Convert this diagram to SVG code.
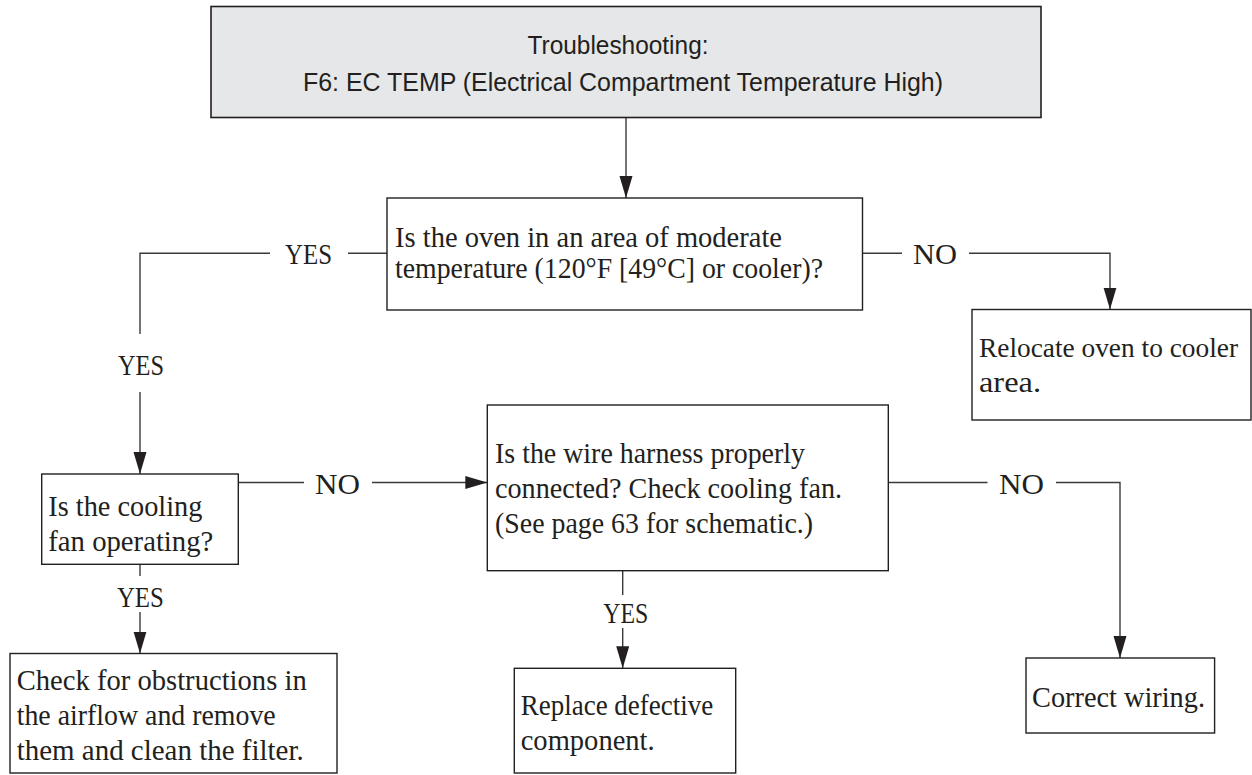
<svg xmlns="http://www.w3.org/2000/svg" width="1252" height="775" viewBox="0 0 1252 775">
<style>
.box{fill:#ffffff;stroke:#231f20;stroke-width:1.4}
.head{fill:#e6e7e8;stroke:#231f20;stroke-width:1.6}
.t{font-family:"Liberation Serif","Times New Roman",serif;font-size:30px;fill:#231f20}
.s{font-family:"Liberation Sans",Arial,sans-serif;font-size:25px;fill:#231f20}
.lbl{font-family:"Liberation Serif","Times New Roman",serif;font-size:30px;fill:#231f20;text-anchor:middle}
.c{fill:none;stroke:#3a3a3a;stroke-width:1.4}
</style>
<defs>
<marker id="arr" markerUnits="userSpaceOnUse" markerWidth="24" markerHeight="14" refX="22" refY="6.5" orient="auto">
<path d="M0,0 L22,6.5 L0,13 Z" fill="#231f20"/>
</marker>
</defs>

<g id="connectors">
<line class="c" x1="626" y1="117.5" x2="626" y2="198" marker-end="url(#arr)"/>
<polyline class="c" points="387,253.3 348,253.3"/>
<polyline class="c" points="270,253.3 140,253.3 140,334"/>
<line class="c" x1="140" y1="392" x2="140" y2="474" marker-end="url(#arr)"/>
<line class="c" x1="862.5" y1="253.3" x2="902" y2="253.3"/>
<polyline class="c" points="969,253.3 1110,253.3 1110,309.5" marker-end="url(#arr)"/>
<line class="c" x1="238.3" y1="482.5" x2="304" y2="482.5"/>
<line class="c" x1="372" y1="482.5" x2="487.3" y2="482.5" marker-end="url(#arr)"/>
<line class="c" x1="140" y1="564.3" x2="140" y2="576"/>
<line class="c" x1="140" y1="612" x2="140" y2="653.5" marker-end="url(#arr)"/>
<line class="c" x1="888.3" y1="482.5" x2="987.5" y2="482.5"/>
<polyline class="c" points="1056,482.5 1120,482.5 1120,658" marker-end="url(#arr)"/>
<line class="c" x1="622.7" y1="570.7" x2="622.7" y2="595"/>
<line class="c" x1="622.7" y1="628" x2="622.7" y2="668.3" marker-end="url(#arr)"/>
<text class="lbl" x="308.5" y="264" textLength="47" lengthAdjust="spacingAndGlyphs">YES</text>
<text class="lbl" x="141" y="375" textLength="46" lengthAdjust="spacingAndGlyphs">YES</text>
<text class="lbl" x="935" y="264" textLength="44" lengthAdjust="spacingAndGlyphs">NO</text>
<text class="lbl" x="337.5" y="494" textLength="45" lengthAdjust="spacingAndGlyphs">NO</text>
<text class="lbl" x="140.4" y="607" textLength="47" lengthAdjust="spacingAndGlyphs">YES</text>
<text class="lbl" x="1021.5" y="494" textLength="45" lengthAdjust="spacingAndGlyphs">NO</text>
<text class="lbl" x="625.8" y="623" textLength="45" lengthAdjust="spacingAndGlyphs">YES</text>
</g>

<g id="title">
<rect class="head" x="211" y="6.5" width="830" height="111"/>
<text class="s" x="618" y="54" text-anchor="middle" textLength="181" lengthAdjust="spacingAndGlyphs">Troubleshooting:</text>
<text class="s" x="303" y="90.7" textLength="640" lengthAdjust="spacingAndGlyphs">F6: EC TEMP (Electrical Compartment Temperature High)</text>
</g>

<g id="q-temperature">
<rect class="box" x="387" y="198" width="475.5" height="112"/>
<text class="t" x="395" y="247" textLength="387" lengthAdjust="spacingAndGlyphs">Is the oven in an area of moderate</text>
<text class="t" x="395" y="278" textLength="428" lengthAdjust="spacingAndGlyphs">temperature (120°F [49°C] or cooler)?</text>
</g>

<g id="relocate">
<rect class="box" x="972" y="309.5" width="279" height="110.5"/>
<text class="t" x="979" y="357" style="font-size:27.5px" textLength="259" lengthAdjust="spacingAndGlyphs">Relocate oven to cooler</text>
<text class="t" x="979" y="392" style="font-size:29px" textLength="62" lengthAdjust="spacingAndGlyphs">area.</text>
</g>

<g id="q-fan">
<rect class="box" x="41.7" y="474" width="196.6" height="90.3"/>
<text class="t" x="48.3" y="516" textLength="154" lengthAdjust="spacingAndGlyphs">Is the cooling</text>
<text class="t" x="48.3" y="551" textLength="165" lengthAdjust="spacingAndGlyphs">fan operating?</text>
</g>

<g id="q-harness">
<rect class="box" x="487.3" y="405" width="401" height="165.7"/>
<text class="t" x="495" y="463.3" textLength="310" lengthAdjust="spacingAndGlyphs">Is the wire harness properly</text>
<text class="t" x="495" y="498.3" textLength="347" lengthAdjust="spacingAndGlyphs">connected? Check cooling fan.</text>
<text class="t" x="495" y="533.3" textLength="318" lengthAdjust="spacingAndGlyphs">(See page 63 for schematic.)</text>
</g>

<g id="obstructions">
<rect class="box" x="10" y="653.5" width="327" height="119.5"/>
<text class="t" x="16.7" y="690" textLength="290" lengthAdjust="spacingAndGlyphs">Check for obstructions in</text>
<text class="t" x="16.7" y="725" textLength="259" lengthAdjust="spacingAndGlyphs">the airflow and remove</text>
<text class="t" x="16.7" y="760" textLength="287" lengthAdjust="spacingAndGlyphs">them and clean the filter.</text>
</g>

<g id="replace">
<rect class="box" x="514.3" y="668.3" width="221.4" height="104.7"/>
<text class="t" x="520.7" y="715" textLength="192.6" lengthAdjust="spacingAndGlyphs">Replace defective</text>
<text class="t" x="520.7" y="750" textLength="134" lengthAdjust="spacingAndGlyphs">component.</text>
</g>

<g id="correct-wiring">
<rect class="box" x="1026" y="658" width="188.6" height="75"/>
<text class="t" x="1032" y="707" textLength="173" lengthAdjust="spacingAndGlyphs">Correct wiring.</text>
</g>
</svg>
